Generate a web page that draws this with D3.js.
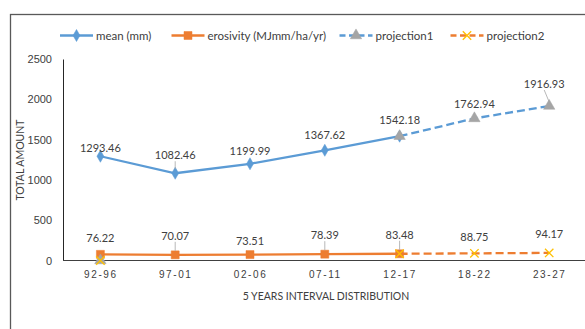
<!DOCTYPE html>
<html><head><meta charset="utf-8">
<script src="https://cdn.jsdelivr.net/npm/d3@7"></script>
<style>
html,body{margin:0;padding:0;background:#fff;}
svg{display:block;font-family:Lato,"Liberation Sans",Arial,sans-serif;}
</style></head><body>
<svg id="chart" width="585" height="329"></svg>
<script>
const categories = ["92-96","97-01","02-06","07-11","12-17","18-22","23-27"];
const meanMm      = [1293.46, 1082.46, 1199.99, 1367.62, 1542.18, null, null];
const erosivity   = [76.22, 70.07, 73.51, 78.39, 83.48, null, null];
const projection1 = [0, null, null, null, 1542.18, 1762.94, 1916.93];
const projection2 = [0, null, null, null, 83.48, 88.75, 94.17];
const yTicks = [0, 500, 1000, 1500, 2000, 2500];
const seriesNames = ["mean (mm)", "erosivity (MJmm/ha/yr)", "projection1", "projection2"];
// label nudges (extra px above point), as in the original layout
const meanLabelLift = [-2, 8, 3, 5, 6, 4, 12];
const eroLabelLift  = [6, 9, 4, 9, 9, 6, 9];
const leaderMean = [false, true, false, false, false, false, true];
const leaderEro  = [false, true, false, true, true, false, false];

const svg = d3.select("#chart");
const blue = "#5B9BD5", orange = "#ED7D31", grey = "#A5A5A5", yellow = "#FFC000";
const textCol = "#404040";

// outer border
svg.append("rect").attr("x",10.5).attr("y",14.5).attr("width",600).attr("height",400)
  .attr("fill","none").attr("stroke","#595959").attr("stroke-width",1.3);

const x = d3.scalePoint().domain(categories).range([63, 586.6]).padding(0.5);
const y = d3.scaleLinear().domain([0, 2500]).range([260.5, 59]);

// axes
const yAxis = d3.axisLeft(y).tickValues(yTicks).tickFormat(d3.format("d")).tickSize(0).tickPadding(11);
const gy = svg.append("g").attr("transform","translate(63,0)").call(yAxis);
gy.select(".domain").attr("stroke","#262626").attr("stroke-width",1);
gy.selectAll("text").attr("fill",textCol).attr("font-size","11px");

const gx = svg.append("g").attr("transform","translate(0,260.5)")
  .call(d3.axisBottom(x).tickSize(0).tickPadding(10));
gx.select(".domain").remove();
svg.append("line").attr("x1",63).attr("x2",587).attr("y1",260.5).attr("y2",260.5)
  .attr("stroke","#404040").attr("stroke-width",1);
gx.selectAll("text").attr("fill",textCol).attr("font-size","10px").attr("letter-spacing","1.6px");

// axis titles
svg.append("text").attr("transform","translate(23.5,160) rotate(-90)")
  .attr("text-anchor","middle").attr("font-size","10.5px").attr("fill",textCol).text("TOTAL AMOUNT");
svg.append("text").attr("x",326).attr("y",299.5).attr("text-anchor","middle")
  .attr("font-size","10.5px").attr("fill",textCol).text("5 YEARS INTERVAL DISTRIBUTION");

function pts(arr){ return arr.map((v,i)=>({c:categories[i], v:v, i:i})); }
const lineGen = d3.line().defined(d=>d.v!==null).x(d=>x(d.c)).y(d=>y(d.v));
// projection lines connect only the contiguous part (the isolated 0 point stays alone)
function projPts(arr){ return pts(arr).map(d=> d.i===0 ? {c:d.c, v:null, i:0} : d); }

svg.append("path").datum(projPts(projection1)).attr("d",lineGen)
  .attr("fill","none").attr("stroke",blue).attr("stroke-width",2.3).attr("stroke-dasharray","8,4");
svg.append("path").datum(projPts(projection2)).attr("d",lineGen)
  .attr("fill","none").attr("stroke",orange).attr("stroke-width",2.3).attr("stroke-dasharray","8,4");
svg.append("path").datum(pts(meanMm)).attr("d",lineGen)
  .attr("fill","none").attr("stroke",blue).attr("stroke-width",2.3);
svg.append("path").datum(pts(erosivity)).attr("d",lineGen)
  .attr("fill","none").attr("stroke",orange).attr("stroke-width",2.3);

const diamond = d3.symbol().type(d3.symbolDiamond).size(42)();
const square = d3.symbol().type(d3.symbolSquare).size(64)();
const triangle = d3.symbol().type(d3.symbolTriangle).size(56)();
const cross = d3.symbol().type(d3.symbolTimes||d3.symbolX).size(48)();

function markers(arr, path, fill, stroke, sw){
  svg.append("g").selectAll("path").data(pts(arr).filter(d=>d.v!==null)).join("path")
    .attr("transform",d=>`translate(${x(d.c)},${y(d.v)})`).attr("d",path)
    .attr("fill",fill).attr("stroke",stroke).attr("stroke-width",sw);
}
markers(meanMm, diamond, blue, blue, 0.5);
markers(erosivity, square, orange, orange, 0.5);
markers(projection1, triangle, grey, grey, 0.5);
markers(projection2, cross, "none", yellow, 1.3);

// data labels
function labels(arr, lift, leaders, shiftLast){
  pts(arr).forEach(d=>{
    if(d.v===null || d.v===0) return;
    const px = x(d.c), py = y(d.v);
    const ty = py - 6 - lift[d.i];
    const dx = (shiftLast && d.i===6) ? -5 : 0;
    if(leaders[d.i]){
      svg.append("line").attr("x1",px + dx).attr("x2",px)
        .attr("y1",ty+2).attr("y2",py-4).attr("stroke","#A6A6A6").attr("stroke-width",0.8);
    }
    svg.append("text").attr("x", px + dx).attr("y",ty)
      .attr("text-anchor","middle").attr("font-size","11px").attr("fill",textCol).text(d.v.toFixed(2));
  });
}
const meanAll = meanMm.map((v,i)=> v!==null ? v : projection1[i]);
const eroAll = erosivity.map((v,i)=> v!==null ? v : projection2[i]);
labels(meanAll, meanLabelLift, leaderMean, true);
labels(eroAll, eroLabelLift, leaderEro, false);

// legend
const legend = svg.append("g");
const legX = [60, 171.5, 339.5, 450.5];
const legY = 35.5;
[0,1,2,3].forEach(k=>{
  const g = legend.append("g").attr("transform",`translate(${legX[k]},${legY})`);
  const col = (k===0||k===2) ? blue : orange;
  g.append("line").attr("x1",0).attr("x2",33).attr("y1",0).attr("y2",0)
    .attr("stroke",col).attr("stroke-width",2.3).attr("stroke-dasharray", k>=2 ? "6,3.5" : null);
  const sym = [diamond, square, triangle, cross][k];
  const fill = [blue, orange, grey, "none"][k];
  const st = [blue, orange, grey, yellow][k];
  g.append("path").attr("transform","translate(16.5,0)").attr("d",sym)
    .attr("fill",fill).attr("stroke",st).attr("stroke-width", k===3?1.3:0.5);
  g.append("text").attr("x",36).attr("y",4).attr("font-size","11.5px").attr("fill",textCol).text(seriesNames[k]);
});
</script>
</body></html>
